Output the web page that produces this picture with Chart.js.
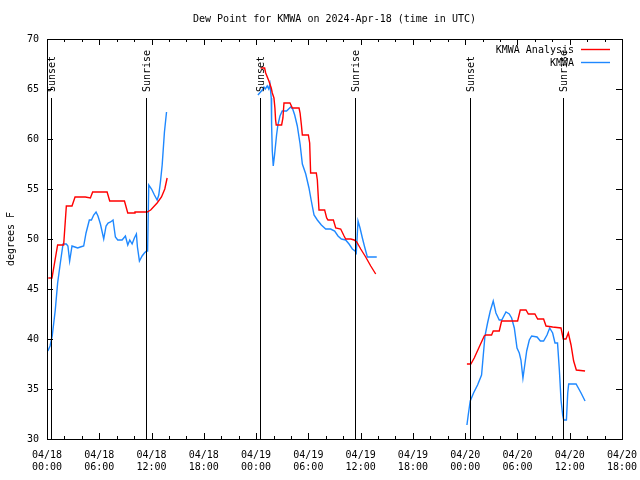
<!DOCTYPE html>
<html>
<head>
<meta charset="utf-8">
<title>Dew Point for KMWA</title>
<script src="https://cdn.jsdelivr.net/npm/chart.js@4.4.1/dist/chart.umd.min.js"></script>
<style>
    html, body { margin: 0; padding: 0; background: #fff; }
    #wrap { width: 640px; height: 480px; }
</style>
</head>
<body>
<div id="wrap"><canvas id="dewChart" width="640" height="480"></canvas></div>
<script>
// hours since 04/18 00:00 UTC, null breaks the line between days
const analysisHours = [0.15, 0.57, 1.22, 1.91, 2.22, 2.87, 3.22, 4.4, 4.98, 5.24, 6.9, 7.2, 8.89, 9.27, 10.0, 10.1, 11.49, 11.9, 12.64, 13.14, 13.52, 13.79,
    18,
    24.52, 24.98, 25.1, 25.47, 25.74, 25.86, 26.05, 26.16, 26.24, 26.31, 26.93, 27.08, 27.2, 27.89, 28.16, 28.93, 29.05, 29.2, 29.31, 30.0, 30.15, 30.26, 30.91, 31.03, 31.22, 31.87, 32.1, 32.25, 32.87, 33.14, 33.71, 34.1, 34.28, 34.87, 35.25, 35.55, 36.01, 36.58, 37.16, 37.73,
    42,
    48.2, 48.65, 49.04, 49.61, 50.19, 50.38, 51.03, 51.22, 51.91, 52.18, 54.02, 54.32, 54.98, 55.25, 56.0, 56.32, 57.0, 57.28, 58.04, 59.0, 59.26, 59.57, 59.84, 60.15, 60.45, 60.76, 61.76];
const analysisDew = [46.1, 46.1, 49.4, 49.4, 53.3, 53.3, 54.2, 54.2, 54.1, 54.7, 54.7, 53.8, 53.8, 52.6, 52.6, 52.7, 52.7, 52.9, 53.6, 54.2, 55.0, 56.1,
    null,
    67.1, 67.1, 66.6, 65.8, 65.1, 64.6, 64.1, 63.1, 61.9, 61.4, 61.4, 62.1, 63.6, 63.6, 63.1, 63.1, 62.6, 61.4, 60.4, 60.4, 59.6, 56.6, 56.6, 55.9, 52.9, 52.9, 52.1, 51.9, 51.9, 51.1, 51.0, 50.3, 50.0, 50.0, 49.9, 49.7, 49.0, 48.2, 47.3, 46.5,
    null,
    37.5, 37.5, 38.1, 39.2, 40.3, 40.4, 40.4, 40.8, 40.8, 41.8, 41.8, 42.9, 42.9, 42.5, 42.5, 42.0, 42.0, 41.3, 41.2, 41.1, 40.0, 40.0, 40.6, 39.4, 37.8, 36.9, 36.8];

const obsHours = [0.1, 0.35, 0.6, 0.95, 1.22, 1.53, 1.84, 2.22, 2.4, 2.6, 2.87, 3.2, 3.52, 3.83, 4.21, 4.48, 4.86, 5.1, 5.36, 5.63, 5.85, 6.13, 6.51, 6.78, 7.01, 7.3, 7.58, 7.85, 8.12, 8.62, 9.0, 9.27, 9.5, 9.77, 10.03, 10.26, 10.38, 10.61, 10.92, 11.18, 11.42, 11.55, 11.68, 12.0, 12.33, 12.64, 12.83, 13.02, 13.22, 13.48, 13.72,
    18,
    24.21, 24.71, 24.9, 25.05, 25.28, 25.45, 25.59, 25.74, 25.78, 25.86, 25.97, 26.12, 26.35, 26.5, 26.74, 27.0, 27.5, 27.97, 28.2, 28.43, 28.73, 29.05, 29.31, 29.7, 30.07, 30.34, 30.65, 31.03, 31.49, 31.99, 32.56, 33.02, 33.4, 33.79, 34.28, 34.67, 35.05, 35.36, 35.5, 35.7, 35.93, 36.2, 36.46, 36.77, 37.85,
    42,
    48.2, 48.35, 48.58, 48.96, 49.42, 49.88, 50.07, 50.27, 50.57, 50.88, 51.22, 51.53, 51.91, 52.2, 52.68, 53.06, 53.33, 53.64, 53.95, 54.21, 54.4, 54.63, 54.79, 55.06, 55.36, 55.63, 56.25, 56.63, 57.0, 57.39, 57.7, 58.04, 58.31, 58.6, 58.81, 59.0, 59.19, 59.31, 59.62, 59.77, 59.88, 60.73, 61.3, 61.76];
const obsDew = [38.8, 39.3, 40.3, 42.9, 45.6, 47.6, 49.5, 49.5, 49.3, 47.8, 49.3, 49.2, 49.1, 49.2, 49.3, 50.6, 51.9, 51.9, 52.4, 52.7, 52.3, 51.5, 50.0, 51.3, 51.6, 51.7, 51.9, 50.2, 49.9, 49.9, 50.3, 49.4, 49.9, 49.5, 50.1, 50.5, 49.2, 47.8, 48.3, 48.6, 48.8, 48.8, 55.4, 55.0, 54.4, 53.9, 54.4, 55.7, 57.4, 60.7, 62.7,
    null,
    64.4, 64.9, 65.2, 65.0, 65.3, 65.0, 65.5, 64.1, 61.4, 58.8, 57.3, 58.4, 60.4, 61.4, 62.3, 62.8, 62.8, 63.2, 63.0, 62.4, 61.3, 59.5, 57.5, 56.5, 55.1, 53.8, 52.4, 51.9, 51.4, 51.0, 51.0, 50.8, 50.3, 50.0, 49.9, 49.5, 49.0, 48.8, 48.6, 51.8, 51.1, 50.1, 49.2, 48.2, 48.2,
    null,
    31.4, 32.4, 33.8, 34.6, 35.4, 36.4, 38.3, 40.3, 41.6, 42.8, 43.8, 42.6, 41.9, 41.9, 42.7, 42.5, 42.1, 41.1, 39.1, 38.6, 37.9, 36.1, 37.1, 38.8, 39.9, 40.3, 40.2, 39.8, 39.8, 40.4, 41.1, 40.6, 39.6, 39.6, 36.9, 33.9, 32.4, 31.9, 31.9, 34.6, 35.5, 35.5, 34.6, 33.8];

const sunHours = [0.42, 11.33, 24.44, 35.36, 48.57, 59.23];
const sunLabels = ['Sunset', 'Sunrise', 'Sunset', 'Sunrise', 'Sunset', 'Sunrise'];

const dayLabels = ['04/18', '04/19', '04/20'];
const yTicks = [30, 35, 40, 45, 50, 55, 60, 65, 70];

const FONT = '10px "DejaVu Sans Mono", monospace';

function toPoints(xs, ys) {
    return xs.map((x, i) => ({ x: x, y: ys[i] }));
}

function hourLabel(h) {
    const day = dayLabels[Math.floor(h / 24)];
    const hh = String(h % 24).padStart(2, '0');
    return [day, hh + ':00'];
}

// gnuplot style: frame, inward ticks, sun markers, title, legend
const gnuplotDecor = {
    id: 'gnuplotDecor',
    afterDatasetsDraw(chart) {
        const ctx = chart.ctx;
        const area = chart.chartArea;
        const xs = chart.scales.x;
        const ys = chart.scales.y;
        ctx.save();
        ctx.strokeStyle = '#000';
        ctx.lineWidth = 1;

        // sunrise / sunset lines
        ctx.fillStyle = '#000';
        ctx.font = FONT;
        sunHours.forEach((h, i) => {
            const px = Math.round(xs.getPixelForValue(h)) + 0.5;
            ctx.beginPath();
            ctx.moveTo(px, 98);
            ctx.lineTo(px, area.bottom);
            ctx.stroke();
            ctx.save();
            ctx.translate(px + 1, 92);
            ctx.rotate(-Math.PI / 2);
            ctx.textAlign = 'left';
            ctx.textBaseline = 'middle';
            ctx.fillText(sunLabels[i], 0, 0);
            ctx.restore();
        });

        // frame
        ctx.strokeRect(Math.round(area.left) + 0.5, Math.round(area.top) + 0.5,
            Math.round(area.right - area.left), Math.round(area.bottom - area.top));

        // x ticks, major every 6h, minor every 2h
        for (let h = 0; h <= 66; h += 2) {
            const px = Math.round(xs.getPixelForValue(h)) + 0.5;
            const len = h % 6 === 0 ? 6 : 3;
            ctx.beginPath();
            ctx.moveTo(px, area.bottom);
            ctx.lineTo(px, area.bottom - len);
            ctx.moveTo(px, area.top);
            ctx.lineTo(px, area.top + len);
            ctx.stroke();
        }
        yTicks.forEach(v => {
            const py = Math.round(ys.getPixelForValue(v)) + 0.5;
            ctx.beginPath();
            ctx.moveTo(area.left, py);
            ctx.lineTo(area.left + 6, py);
            ctx.moveTo(area.right, py);
            ctx.lineTo(area.right - 6, py);
            ctx.stroke();
        });

        // title
        ctx.textAlign = 'center';
        ctx.textBaseline = 'middle';
        ctx.fillText('Dew Point for KMWA on 2024-Apr-18 (time in UTC)', (area.left + area.right) / 2, 19);

        // y axis title
        ctx.save();
        ctx.translate(11, (area.top + area.bottom) / 2);
        ctx.rotate(-Math.PI / 2);
        ctx.fillText('degrees F', 0, 0);
        ctx.restore();

        // legend, top right
        chart.data.datasets.forEach((ds, i) => {
            const ly = 50 + i * 13;
            ctx.textAlign = 'right';
            ctx.fillStyle = '#000';
            ctx.fillText(ds.label, 574, ly);
            ctx.strokeStyle = ds.borderColor;
            ctx.lineWidth = 1.4;
            ctx.beginPath();
            ctx.moveTo(581, ly - 0.5);
            ctx.lineTo(610, ly - 0.5);
            ctx.stroke();
        });
        ctx.restore();
    }
};

document.addEventListener('DOMContentLoaded', function() {
    const ctx = document.getElementById('dewChart').getContext('2d');

    new Chart(ctx, {
        type: 'line',
        data: {
            datasets: [
                {
                    label: 'KMWA Analysis',
                    data: toPoints(analysisHours, analysisDew),
                    borderColor: '#ff0000',
                    borderWidth: 1.4,
                    pointRadius: 0,
                    tension: 0,
                    spanGaps: false
                },
                {
                    label: 'KMWA',
                    data: toPoints(obsHours, obsDew),
                    borderColor: '#1e88ff',
                    borderWidth: 1.4,
                    pointRadius: 0,
                    tension: 0,
                    spanGaps: false
                }
            ]
        },
        options: {
            responsive: false,
            animation: false,
            devicePixelRatio: 1,
            layout: { padding: { left: 0, right: 18, top: 39, bottom: 0 } },
            plugins: {
                legend: { display: false },
                title: { display: false },
                tooltip: { enabled: false }
            },
            scales: {
                x: {
                    type: 'linear',
                    min: 0,
                    max: 66,
                    grid: { display: false },
                    border: { display: false },
                    afterFit: scale => { scale.height = 41; },
                    ticks: {
                        stepSize: 6,
                        autoSkip: false,
                        maxRotation: 0,
                        padding: 2,
                        color: '#000',
                        font: { family: '"DejaVu Sans Mono", monospace', size: 10, lineHeight: 1.25 },
                        callback: value => hourLabel(value)
                    }
                },
                y: {
                    min: 30,
                    max: 70,
                    grid: { display: false },
                    border: { display: false },
                    afterFit: scale => { scale.width = 47; },
                    ticks: {
                        stepSize: 5,
                        padding: 0,
                        color: '#000',
                        font: { family: '"DejaVu Sans Mono", monospace', size: 10 }
                    }
                }
            }
        },
        plugins: [gnuplotDecor]
    });
});
</script>
</body>
</html>
